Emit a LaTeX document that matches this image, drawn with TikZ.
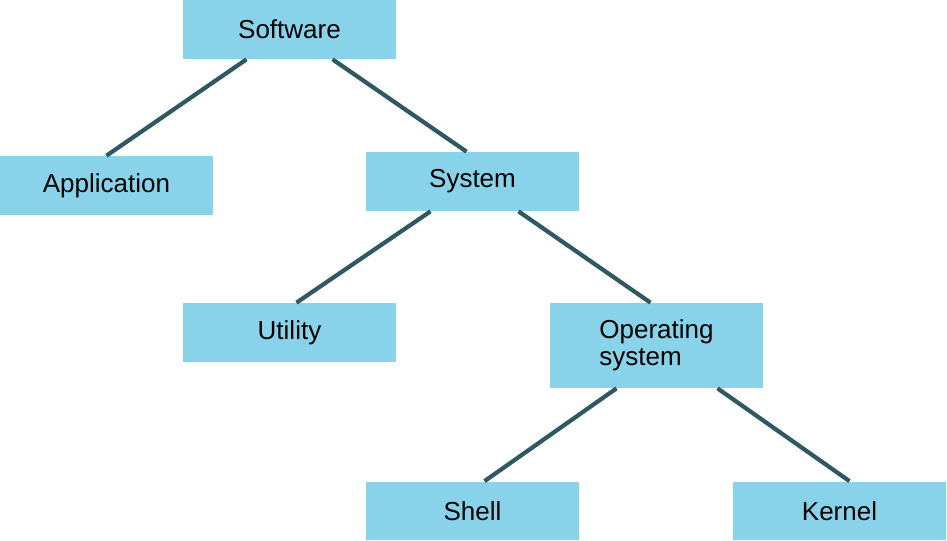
\documentclass[tikz,border=0pt]{standalone}
\usepackage{fontspec}
\setmainfont{Liberation Sans}
\usepackage{tikz}
\usetikzlibrary{calc}
\definecolor{boxblue}{RGB}{137, 211, 234}
\definecolor{linkslate}{RGB}{47, 88, 96}

\begin{document}
\begin{tikzpicture}[
          x=0.02cm, y=-0.02cm,
          box/.style={rectangle, fill=boxblue, minimum width=4.26cm, minimum height=1.18cm, inner sep=0pt, draw=none, font=\fontsize{14.8}{15.5}\selectfont},
          tallbox/.style={box, minimum height=1.7cm, align=left},
          conn/.style={line width=2.4pt, linkslate}
        ]
          \useasboundingbox (0,0) rectangle (947,541);

          % Top level
          \node[box] (software) at (289.5, 29.5) {Software};

          % Second level
          \node[box] (application) at (106.5, 185.5) {Application};
          \node[box] (system) at (472.5, 181.5) {System};

          % Third level
          \node[box] (utility) at (289.5, 332.5) {Utility};
          \node[tallbox] (os) at (656.5, 345.5) {Operating\\system};

          % Bottom level
          \node[box] (shell) at (472.5, 511) {Shell};
          \node[box] (kernel) at (839.5, 511) {Kernel};

          % Connections
          \draw[conn] ($(software.south)+(-43,0)$) -- (application.north);
          \draw[conn] ($(software.south)+(43,0)$) -- ($(system.north)+(-6,0)$);

          \draw[conn] ($(system.south)+(-42,0)$) -- ($(utility.north)+(7,0)$);
          \draw[conn] ($(system.south)+(46,0)$) -- ($(os.north)+(-6,0)$);

          \draw[conn] ($(os.south)+(-40,0)$) -- ($(shell.north)+(12,0)$);
          \draw[conn] ($(os.south)+(61,0)$) -- ($(kernel.north)+(10,0)$);
        \end{tikzpicture}
\end{document}
